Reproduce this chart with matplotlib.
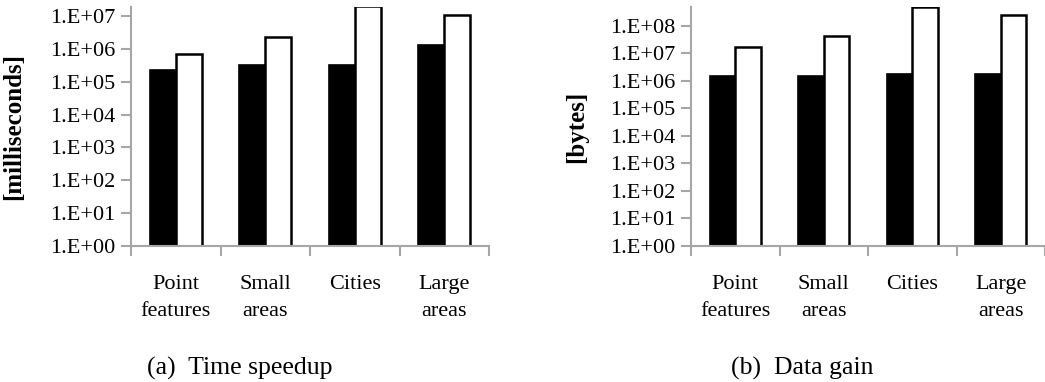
import matplotlib
matplotlib.use("Agg")
import matplotlib.pyplot as plt
import numpy as np

plt.rcParams['font.family'] = ['Liberation Serif', 'DejaVu Serif']

# data
categories = ["Point\nfeatures", "Small\nareas", "Cities", "Large\nareas"]
time_black = [2.2e5, 3.3e5, 3.3e5, 1.3e6]
time_white = [6.7e5, 2.3e6, 1.95e7, 1.05e7]
data_black = [1.45e6, 1.45e6, 1.7e6, 1.7e6]
data_white = [1.7e7, 4.4e7, 4.6e8, 2.5e8]

grey = "#a6a6a6"
fs = 16


def draw_panel(ax, black, white, ylabel, top_exp, n_dec, label_x):
    x = np.arange(len(categories))
    w = 0.29
    ax.bar(x - w / 2, black, w, color="black", edgecolor="black", linewidth=1.2)
    ax.bar(x + w / 2, white, w, color="white", edgecolor="black", linewidth=1.8)
    ax.set_yscale("log")
    ax.set_ylim(1, 10 ** top_exp)
    ax.set_xlim(-0.5, len(categories) - 0.5)
    decs = list(range(n_dec + 1))
    ax.set_yticks([10.0 ** d for d in decs])
    ax.set_yticklabels(["1.E+%02d" % d for d in decs])
    ax.yaxis.set_minor_locator(matplotlib.ticker.NullLocator())
    # category boundaries as ticks, labels at centers
    ax.set_xticks(np.arange(len(categories) + 1) - 0.5)
    ax.set_xticklabels([])
    ax.set_xticks(x, minor=True)
    ax.set_xticklabels(categories, minor=True, fontsize=fs, linespacing=1.55, va="top")
    ax.tick_params(axis="x", which="minor", length=0, pad=21)
    ax.tick_params(axis="x", which="major", length=7, color=grey, width=1.5)
    ax.tick_params(axis="y", length=7, color=grey, width=1.5, labelsize=fs, pad=4)
    for s in ["top", "right"]:
        ax.spines[s].set_visible(False)
    for s in ["left", "bottom"]:
        ax.spines[s].set_color(grey)
        ax.spines[s].set_linewidth(1.5)
    ax.set_ylabel(ylabel, fontsize=18, fontweight="bold")
    ax.yaxis.set_label_coords(label_x, 0.5)


fig = plt.figure(figsize=(10.45, 3.82), dpi=100)

ax1 = fig.add_axes([131 / 1045, 1 - 246 / 382, (489 - 131) / 1045, (246 - 7) / 382])
draw_panel(ax1, time_black, time_white, "[milliseconds]", 7.27, 7, -0.296)

ax2 = fig.add_axes([691 / 1045, 1 - 246 / 382, (1045 - 691) / 1045, (246 - 7) / 382])
draw_panel(ax2, data_black, data_white, "[bytes]", 8.68, 8, -0.291)

fig.text(240 / 1045, 1 - 368 / 382, "(a)  Time speedup", ha="center", va="center", fontsize=18.5)
fig.text(802 / 1045, 1 - 368 / 382, "(b)  Data gain", ha="center", va="center", fontsize=18.5)

fig.savefig("out.png", dpi=100)
